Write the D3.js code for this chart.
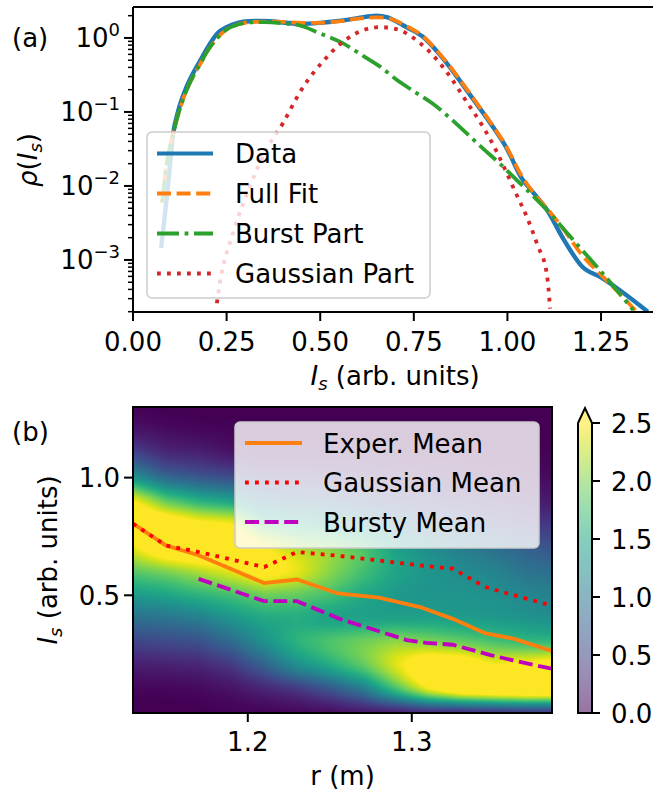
<!DOCTYPE html>
<html>
<head>
<meta charset="utf-8">
<script src="https://cdn.jsdelivr.net/npm/d3@7"></script>
<style>
body { margin: 0; background: #fff; }
svg text { font-family: "DejaVu Sans", sans-serif; fill: #000; }
</style>
</head>
<body>
<svg id="fig" width="653" height="795"></svg>
<script>
// ---- panel (a): PDF of Is ----
const dataX = [0.075, 0.085, 0.095, 0.107, 0.12, 0.14, 0.16, 0.18, 0.20, 0.225, 0.25, 0.28, 0.31, 0.35, 0.40, 0.45, 0.50, 0.55, 0.60, 0.65, 0.68, 0.70, 0.73, 0.775, 0.82, 0.865, 0.91, 0.955, 1.0, 1.035, 1.07, 1.105, 1.15, 1.2, 1.25, 1.3, 1.375];
const dataY = [1.45e-3, 4e-3, 0.012, 0.05, 0.1, 0.2, 0.33, 0.5, 0.75, 1.15, 1.4, 1.6, 1.68, 1.7, 1.62, 1.55, 1.6, 1.7, 1.85, 2.0, 1.9, 1.7, 1.4, 1.03, 0.59, 0.3, 0.145, 0.07, 0.031, 0.0135, 0.008, 0.0048, 0.0019, 8.1e-4, 5.8e-4, 3.9e-4, 2.0e-4];

const fitX = [0.078, 0.09, 0.107, 0.12, 0.14, 0.16, 0.18, 0.2, 0.225, 0.25, 0.28, 0.31, 0.35, 0.4, 0.45, 0.5, 0.55, 0.6, 0.65, 0.68, 0.7, 0.73, 0.775, 0.82, 0.865, 0.91, 0.955, 1.0, 1.035, 1.07, 1.105, 1.15, 1.2, 1.25, 1.3, 1.345];
const fitY = [6e-3, 0.02, 0.05, 0.09, 0.18, 0.3, 0.45, 0.68, 1.0, 1.3, 1.52, 1.63, 1.66, 1.65, 1.6, 1.6, 1.68, 1.82, 1.9, 1.85, 1.72, 1.45, 1.05, 0.6, 0.31, 0.15, 0.072, 0.032, 0.0145, 8.0e-3, 5e-3, 2.6e-3, 1.15e-3, 6.3e-4, 3.5e-4, 2.0e-4];

const burstX = [0.078, 0.09, 0.107, 0.12, 0.14, 0.16, 0.18, 0.2, 0.225, 0.25, 0.28, 0.31, 0.35, 0.4, 0.45, 0.5, 0.56, 0.62, 0.66, 0.705, 0.75, 0.8, 0.85, 0.89, 0.935, 0.98, 1.025, 1.07, 1.115, 1.16, 1.2, 1.25, 1.3, 1.336];
const burstY = [6e-3, 0.02, 0.05, 0.09, 0.18, 0.3, 0.45, 0.68, 1.0, 1.3, 1.52, 1.62, 1.64, 1.58, 1.45, 1.15, 0.85, 0.55, 0.41, 0.27, 0.19, 0.13, 0.08, 0.052, 0.032, 0.020, 0.012, 7.2e-3, 4.2e-3, 2.3e-3, 1.35e-3, 7e-4, 3.5e-4, 2.1e-4];

const gaussX = [0.224, 0.232, 0.267, 0.312, 0.356, 0.40, 0.45, 0.51, 0.55, 0.588, 0.62, 0.66, 0.70, 0.767, 0.81, 0.847, 0.89, 0.935, 0.97, 0.998, 1.025, 1.052, 1.08, 1.105, 1.114];
const gaussY = [2.6e-4, 4.9e-4, 2.3e-3, 9.8e-3, 0.031, 0.07, 0.2, 0.5, 0.8, 1.1, 1.3, 1.4, 1.33, 0.85, 0.52, 0.30, 0.14, 0.063, 0.03, 0.015, 7.5e-3, 3.8e-3, 1.6e-3, 6.6e-4, 2.2e-4];

const topXTicks = [0, 0.25, 0.5, 0.75, 1.0, 1.25];
const topYDecades = [-3, -2, -1, 0];
const topLegend = ["Data", "Full Fit", "Burst Part", "Gaussian Part"];

// ---- panel (b): density map over r and Is, plus the three means ----
const rCols = [1.13, 1.15, 1.17, 1.19, 1.21, 1.23, 1.25, 1.27, 1.29, 1.31, 1.33, 1.35, 1.37, 1.385];
const isRows = [0, 0.1, 0.2, 0.3, 0.4, 0.5, 0.6, 0.7, 0.8, 0.9, 1.0, 1.1, 1.2, 1.3];
const density = [
  [0, 0.04, 0.2, 0.5, 0.9, 1.35, 1.85, 2.4, 2.9, 2.5, 1.3, 0.55, 0.15, 0.02],
  [0, 0.04, 0.22, 0.55, 0.95, 1.45, 2.0, 2.8, 2.8, 1.9, 0.85, 0.3, 0.08, 0],
  [0, 0.06, 0.25, 0.6, 1.05, 1.6, 2.2, 2.9, 2.6, 1.6, 0.7, 0.25, 0.05, 0],
  [0.02, 0.12, 0.4, 0.85, 1.3, 1.75, 2.4, 2.8, 2.5, 1.45, 0.6, 0.15, 0.03, 0],
  [0.03, 0.25, 0.75, 1.25, 1.5, 1.95, 2.6, 2.5, 1.75, 0.95, 0.4, 0.1, 0.02, 0],
  [0.05, 0.4, 1.2, 1.6, 1.55, 1.9, 2.4, 2.2, 1.55, 0.85, 0.38, 0.12, 0.03, 0],
  [0.08, 0.65, 1.5, 1.8, 1.45, 1.75, 2.05, 2.05, 1.45, 0.8, 0.36, 0.1, 0.02, 0],
  [0.15, 1.0, 1.85, 1.95, 1.45, 1.5, 1.75, 1.8, 1.25, 0.65, 0.3, 0.08, 0.02, 0],
  [0.2, 1.7, 2.35, 2.1, 1.45, 1.35, 1.45, 1.4, 0.95, 0.5, 0.22, 0.06, 0.01, 0],
  [0.3, 2.4, 2.8, 2.05, 1.45, 1.3, 1.3, 1.2, 0.8, 0.42, 0.18, 0.05, 0.01, 0],
  [0.3, 2.8, 2.8, 1.95, 1.4, 1.3, 1.2, 1.05, 0.7, 0.36, 0.14, 0.04, 0.01, 0],
  [0.35, 2.9, 2.5, 1.8, 1.35, 1.25, 1.12, 0.9, 0.55, 0.28, 0.11, 0.03, 0, 0],
  [0.4, 3.0, 2.6, 1.7, 1.3, 1.15, 0.95, 0.75, 0.45, 0.22, 0.09, 0.02, 0, 0],
  [0.4, 3.0, 2.7, 1.7, 1.25, 1.1, 0.9, 0.65, 0.4, 0.18, 0.07, 0.02, 0, 0]
];

const experR = [1.13, 1.15, 1.17, 1.21, 1.23, 1.255, 1.28, 1.305, 1.325, 1.345, 1.362, 1.386];
const experIs = [0.805, 0.712, 0.67, 0.552, 0.567, 0.508, 0.49, 0.45, 0.40, 0.338, 0.316, 0.262];
const gaussMeanR = [1.13, 1.15, 1.17, 1.21, 1.23, 1.255, 1.28, 1.305, 1.325, 1.345, 1.36, 1.386];
const gaussMeanIs = [0.804, 0.712, 0.684, 0.62, 0.684, 0.668, 0.648, 0.627, 0.613, 0.535, 0.505, 0.455];
const burstyR = [1.17, 1.21, 1.23, 1.256, 1.297, 1.309, 1.325, 1.348, 1.364, 1.386];
const burstyIs = [0.57, 0.475, 0.475, 0.40, 0.31, 0.298, 0.29, 0.246, 0.22, 0.187];

const bottomXTicks = [1.2, 1.3];
const bottomYTicks = [0.5, 1.0];
const cbarTicks = [0, 0.5, 1.0, 1.5, 2.0, 2.5];
const bottomLegend = ["Exper. Mean", "Gaussian Mean", "Bursty Mean"];

const svg = d3.select('#fig');
const fs = 26, lw = 3.8;

// ================= panel (a) =================
const xA = d3.scaleLinear().domain([0, 1.4]).range([133, 657.2]);
const yA = d3.scaleLog().domain([1.98e-4, 2.62]).range([312, 7]);

svg.append('clipPath').attr('id', 'clipA')
  .append('rect').attr('x', 133).attr('y', 7).attr('width', 530).attr('height', 305);

const lineA = d3.line().x(d => xA(d[0])).y(d => yA(d[1])).curve(d3.curveMonotoneX);
const gA = svg.append('g').attr('clip-path', 'url(#clipA)');

const topSeries = [
  { x: dataX, y: dataY, color: '#1f77b4', dash: null, w: 4.4 },
  { x: fitX, y: fitY, color: '#ff7f0e', dash: '14,5.6', w: lw },
  { x: burstX, y: burstY, color: '#2ca02c', dash: '22,5.6,3.8,5.6', w: lw },
  { x: gaussX, y: gaussY, color: '#d62728', dash: '3.8,6.2', w: lw }
];

topSeries.forEach(s => {
  gA.append('path')
    .attr('d', lineA(d3.zip(s.x, s.y)))
    .attr('fill', 'none')
    .attr('stroke', s.color)
    .attr('stroke-width', s.w)
    .attr('stroke-dasharray', s.dash);
});

// spines
svg.append('path')
  .attr('d', `M133,7 V312 H660 M133,7 H660`)
  .attr('fill', 'none').attr('stroke', '#000').attr('stroke-width', 2);

// x ticks
topXTicks.forEach(t => {
  svg.append('line').attr('x1', xA(t)).attr('x2', xA(t)).attr('y1', 312).attr('y2', 321)
    .attr('stroke', '#000').attr('stroke-width', 2);
  svg.append('text').attr('x', xA(t)).attr('y', 351).attr('text-anchor', 'middle')
    .attr('font-size', fs).text(t.toFixed(2));
});

// y ticks (log)
const minorA = [];
[-4, -3, -2, -1, 0].forEach(d => {
  for (let k = 2; k <= 9; k++) {
    const v = k * Math.pow(10, d);
    if (v >= yA.domain()[0] && v <= yA.domain()[1]) minorA.push(v);
  }
});
minorA.forEach(v => {
  svg.append('line').attr('x1', 128).attr('x2', 133).attr('y1', yA(v)).attr('y2', yA(v))
    .attr('stroke', '#000').attr('stroke-width', 1.5);
});
topYDecades.forEach(d => {
  const yy = yA(Math.pow(10, d));
  svg.append('line').attr('x1', 124).attr('x2', 133).attr('y1', yy).attr('y2', yy)
    .attr('stroke', '#000').attr('stroke-width', 2);
  const t = svg.append('text').attr('x', 120).attr('y', yy + 9.5).attr('text-anchor', 'end')
    .attr('font-size', fs);
  t.append('tspan').text('10');
  t.append('tspan').attr('dy', -11).attr('font-size', 18).text(d < 0 ? '\u2212' + (-d) : String(d));
});

// axis labels
const xlabA = svg.append('text').attr('x', xA(0.7)).attr('y', 385).attr('text-anchor', 'middle').attr('font-size', fs);
xlabA.append('tspan').attr('font-style', 'italic').text('I');
xlabA.append('tspan').attr('font-style', 'italic').attr('font-size', 18).attr('dy', 5).text('s');
xlabA.append('tspan').attr('dy', -5).text(' (arb. units)');

const ylabA = svg.append('text').attr('transform', 'translate(37,160) rotate(-90)')
  .attr('text-anchor', 'middle').attr('font-size', fs);
ylabA.append('tspan').attr('font-style', 'italic').text('\u03c1');
ylabA.append('tspan').text('(');
ylabA.append('tspan').attr('font-style', 'italic').text('I');
ylabA.append('tspan').attr('font-style', 'italic').attr('font-size', 18).attr('dy', 5).text('s');
ylabA.append('tspan').attr('dy', -5).text(')');

svg.append('text').attr('x', 12).attr('y', 47).attr('font-size', fs).text('(a)');

// legend (a)
svg.append('rect').attr('x', 147).attr('y', 132).attr('width', 283).attr('height', 166).attr('rx', 5)
  .attr('fill', '#fff').attr('fill-opacity', 0.8).attr('stroke', '#cccccc').attr('stroke-width', 1.5);
topLegend.forEach((name, i) => {
  const yy = 153.5 + 40 * i;
  svg.append('line').attr('x1', 157).attr('x2', 213).attr('y1', yy).attr('y2', yy)
    .attr('stroke', topSeries[i].color).attr('stroke-width', lw)
    .attr('stroke-dasharray', topSeries[i].dash);
  svg.append('text').attr('x', 235).attr('y', yy + 9.5).attr('font-size', fs).text(name);
});

// ================= panel (b) =================
const xB = d3.scaleLinear().domain([1.13, 1.3855]).range([133, 552]);
const yB = d3.scaleLinear().domain([0, 1.3]).range([713, 407]);
const vmax = 2.5;

// density field: cubic (Catmull-Rom) along Is, linear along r
function colValue(col, v) {
  const n = isRows.length;
  const step = isRows[1] - isRows[0];
  const f = (v - isRows[0]) / step;
  const i = Math.max(0, Math.min(n - 2, Math.floor(f)));
  const t = f - i;
  const p = k => col[Math.max(0, Math.min(n - 1, k))];
  const p0 = p(i - 1), p1 = p(i), p2 = p(i + 1), p3 = p(i + 2);
  return 0.5 * ((2 * p1) + (-p0 + p2) * t + (2 * p0 - 5 * p1 + 4 * p2 - p3) * t * t + (-p0 + 3 * p1 - 3 * p2 + p3) * t * t * t);
}
function fieldAt(r, v) {
  let j = d3.bisectRight(rCols, r) - 1;
  j = Math.max(0, Math.min(rCols.length - 2, j));
  const t = Math.max(0, Math.min(1, (r - rCols[j]) / (rCols[j + 1] - rCols[j])));
  return Math.max(0, (1 - t) * colValue(density[j], v) + t * colValue(density[j + 1], v));
}

const pw = 419, ph = 306;
const canvas = document.createElement('canvas');
canvas.width = pw; canvas.height = ph;
const ctx = canvas.getContext('2d');
const img = ctx.createImageData(pw, ph);
for (let py = 0; py < ph; py++) {
  const v = yB.invert(407 + py + 0.5);
  for (let px = 0; px < pw; px++) {
    const r = xB.invert(133 + px + 0.5);
    const val = fieldAt(r, v);
    const c = d3.rgb(d3.interpolateViridis(Math.min(1, val / vmax)));
    const o = (py * pw + px) * 4;
    img.data[o] = c.r; img.data[o + 1] = c.g; img.data[o + 2] = c.b; img.data[o + 3] = 255;
  }
}
ctx.putImageData(img, 0, 0);
svg.append('image').attr('x', 133).attr('y', 407).attr('width', pw).attr('height', ph)
  .attr('preserveAspectRatio', 'none').attr('href', canvas.toDataURL());

svg.append('clipPath').attr('id', 'clipB')
  .append('rect').attr('x', 133).attr('y', 407).attr('width', 419).attr('height', 306);
const gB = svg.append('g').attr('clip-path', 'url(#clipB)');
const lineB = d3.line().x(d => xB(d[0])).y(d => yB(d[1]));

const bottomSeries = [
  { r: experR, v: experIs, color: '#ff7f0e', dash: null },
  { r: gaussMeanR, v: gaussMeanIs, color: '#ff0000', dash: '3.8,6.2' },
  { r: burstyR, v: burstyIs, color: '#bf00bf', dash: '14,5.6' }
];
bottomSeries.forEach(s => {
  gB.append('path').attr('d', lineB(d3.zip(s.r, s.v)))
    .attr('fill', 'none').attr('stroke', s.color).attr('stroke-width', lw)
    .attr('stroke-dasharray', s.dash);
});

svg.append('rect').attr('x', 133).attr('y', 407).attr('width', 419).attr('height', 306)
  .attr('fill', 'none').attr('stroke', '#000').attr('stroke-width', 2);

bottomXTicks.forEach(t => {
  svg.append('line').attr('x1', xB(t)).attr('x2', xB(t)).attr('y1', 713).attr('y2', 722)
    .attr('stroke', '#000').attr('stroke-width', 2);
  svg.append('text').attr('x', xB(t)).attr('y', 751).attr('text-anchor', 'middle')
    .attr('font-size', fs).text(t.toFixed(1));
});
bottomYTicks.forEach(t => {
  svg.append('line').attr('x1', 124).attr('x2', 133).attr('y1', yB(t)).attr('y2', yB(t))
    .attr('stroke', '#000').attr('stroke-width', 2);
  svg.append('text').attr('x', 120).attr('y', yB(t) + 9.5).attr('text-anchor', 'end')
    .attr('font-size', fs).text(t.toFixed(1));
});

svg.append('text').attr('x', 342.5).attr('y', 785).attr('text-anchor', 'middle')
  .attr('font-size', fs).text('r (m)');

const ylabB = svg.append('text').attr('transform', 'translate(57,560) rotate(-90)')
  .attr('text-anchor', 'middle').attr('font-size', fs);
ylabB.append('tspan').attr('font-style', 'italic').text('I');
ylabB.append('tspan').attr('font-style', 'italic').attr('font-size', 18).attr('dy', 5).text('s');
ylabB.append('tspan').attr('dy', -5).text(' (arb. units)');

svg.append('text').attr('x', 12).attr('y', 441).attr('font-size', fs).text('(b)');

// legend (b)
svg.append('rect').attr('x', 235).attr('y', 422).attr('width', 304).attr('height', 126).attr('rx', 5)
  .attr('fill', '#fff').attr('fill-opacity', 0.8).attr('stroke', '#cccccc').attr('stroke-width', 1.5);
bottomLegend.forEach((name, i) => {
  const yy = 443 + 39.5 * i;
  svg.append('line').attr('x1', 245).attr('x2', 302).attr('y1', yy).attr('y2', yy)
    .attr('stroke', bottomSeries[i].color).attr('stroke-width', lw)
    .attr('stroke-dasharray', bottomSeries[i].dash);
  svg.append('text').attr('x', 323).attr('y', yy + 9.5).attr('font-size', fs).text(name);
});

// colorbar
const cS = d3.scaleLinear().domain([0, vmax]).range([713, 423]);
const grad = svg.append('defs').append('linearGradient').attr('id', 'cbar')
  .attr('x1', 0).attr('x2', 0).attr('y1', 1).attr('y2', 0);
d3.range(0, 1.0001, 0.05).forEach(t => {
  grad.append('stop').attr('offset', t).attr('stop-color', d3.interpolateViridis(t)).attr('stop-opacity', 0.55);
});
const cbX0 = 578, cbX1 = 592;
svg.append('rect').attr('x', cbX0).attr('y', cS(vmax)).attr('width', cbX1 - cbX0)
  .attr('height', cS(0) - cS(vmax)).attr('fill', 'url(#cbar)');
svg.append('path').attr('d', `M${cbX0},${cS(vmax)} L${(cbX0 + cbX1) / 2},408 L${cbX1},${cS(vmax)} Z`)
  .attr('fill', d3.interpolateViridis(1)).attr('fill-opacity', 0.55);
svg.append('path')
  .attr('d', `M${cbX0},${cS(0)} V${cS(vmax)} L${(cbX0 + cbX1) / 2},408 L${cbX1},${cS(vmax)} V${cS(0)} Z`)
  .attr('fill', 'none').attr('stroke', '#000').attr('stroke-width', 2);
cbarTicks.forEach(t => {
  svg.append('line').attr('x1', cbX1).attr('x2', cbX1 + 8).attr('y1', cS(t)).attr('y2', cS(t))
    .attr('stroke', '#000').attr('stroke-width', 2);
  svg.append('text').attr('x', 611).attr('y', cS(t) + 9.5).attr('font-size', fs).text(t.toFixed(1));
});
</script>
</body>
</html>
